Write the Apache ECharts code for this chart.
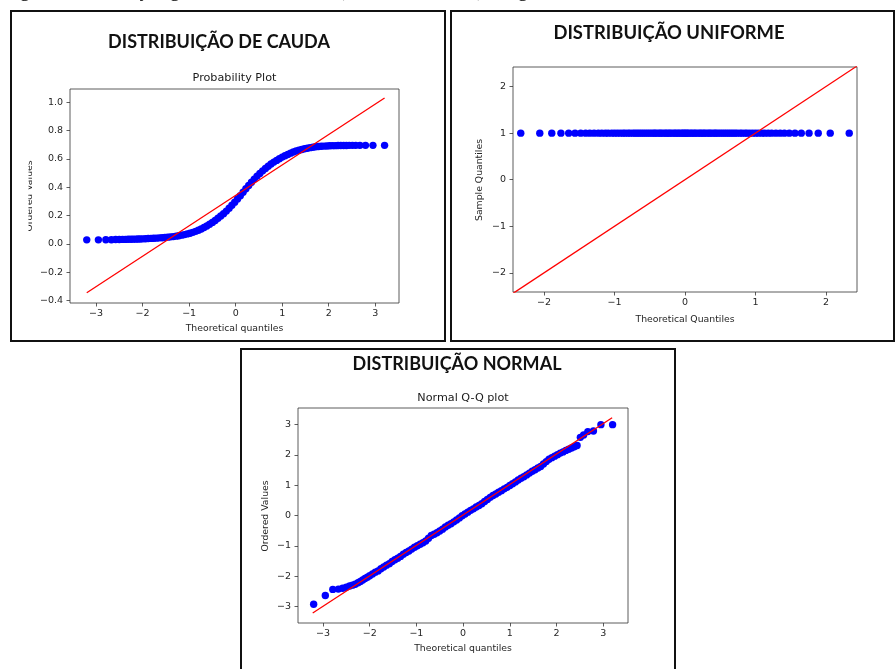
<!DOCTYPE html>
<html><head><meta charset="utf-8">
<script src="https://cdn.jsdelivr.net/npm/echarts@6/dist/echarts.min.js"></script>
<style>html,body{margin:0;padding:0;background:#fff}#c{width:895px;height:669px}</style>
</head><body><div id="c"></div>
<script>
// ---------- DATA ----------
const caudaPoints = [[-3.2,0.029],[-2.95,0.029],[-2.79,0.03],[-2.67,0.03],[-2.58,0.031],[-2.5,0.031],[-2.43,0.032],[-2.37,0.032],[-2.31,0.033],[-2.25,0.033],[-2.2,0.034],[-2.15,0.034],[-2.1,0.035],[-2.05,0.035],[-2.0,0.036],[-1.94,0.037],[-1.88,0.038],[-1.82,0.039],[-1.76,0.040],[-1.7,0.041],[-1.64,0.043],[-1.58,0.044],[-1.52,0.046],[-1.46,0.048],[-1.4,0.05],[-1.34,0.052],[-1.28,0.055],[-1.22,0.058],[-1.16,0.062],[-1.1,0.066],[-1.04,0.071],[-0.98,0.076],[-0.92,0.082],[-0.86,0.089],[-0.8,0.097],[-0.74,0.106],[-0.68,0.116],[-0.62,0.127],[-0.56,0.139],[-0.5,0.152],[-0.44,0.166],[-0.38,0.181],[-0.32,0.197],[-0.26,0.214],[-0.2,0.232],[-0.14,0.252],[-0.08,0.273],[-0.02,0.295],[0.04,0.318],[0.1,0.34],[0.16,0.365],[0.22,0.39],[0.28,0.413],[0.34,0.436],[0.4,0.458],[0.46,0.479],[0.52,0.498],[0.58,0.516],[0.64,0.533],[0.7,0.549],[0.76,0.564],[0.82,0.578],[0.88,0.59],[0.94,0.602],[1.0,0.613],[1.06,0.623],[1.12,0.632],[1.18,0.641],[1.24,0.649],[1.3,0.656],[1.36,0.662],[1.42,0.667],[1.48,0.672],[1.54,0.676],[1.6,0.68],[1.66,0.683],[1.72,0.686],[1.78,0.688],[1.84,0.69],[1.9,0.691],[1.96,0.692],[2.02,0.693],[2.08,0.694],[2.14,0.694],[2.2,0.695],[2.26,0.695],[2.32,0.695],[2.38,0.695],[2.44,0.696],[2.51,0.696],[2.58,0.696],[2.67,0.696],[2.79,0.696],[2.95,0.696],[3.2,0.696]];
const caudaLine = [[-3.2,-0.345],[3.2,1.03]];

const uniformPoints = [[-2.33,1],[-2.06,1],[-1.89,1],[-1.76,1],[-1.65,1],[-1.56,1],[-1.48,1],[-1.41,1],[-1.35,1],[-1.29,1],[-1.23,1],[-1.18,1],[-1.13,1],[-1.09,1],[-1.04,1],[-1.0,1],[-0.96,1],[-0.92,1],[-0.88,1],[-0.85,1],[-0.81,1],[-0.78,1],[-0.74,1],[-0.71,1],[-0.68,1],[-0.65,1],[-0.62,1],[-0.59,1],[-0.56,1],[-0.53,1],[-0.5,1],[-0.47,1],[-0.44,1],[-0.42,1],[-0.39,1],[-0.36,1],[-0.34,1],[-0.31,1],[-0.28,1],[-0.26,1],[-0.23,1],[-0.21,1],[-0.18,1],[-0.15,1],[-0.13,1],[-0.1,1],[-0.08,1],[-0.05,1],[-0.03,1],[-0.01,1],[0.01,1],[0.03,1],[0.05,1],[0.08,1],[0.1,1],[0.13,1],[0.15,1],[0.18,1],[0.21,1],[0.23,1],[0.26,1],[0.28,1],[0.31,1],[0.34,1],[0.36,1],[0.39,1],[0.42,1],[0.44,1],[0.47,1],[0.5,1],[0.53,1],[0.56,1],[0.59,1],[0.62,1],[0.65,1],[0.68,1],[0.71,1],[0.74,1],[0.78,1],[0.81,1],[0.85,1],[0.88,1],[0.92,1],[0.96,1],[1.0,1],[1.04,1],[1.09,1],[1.13,1],[1.18,1],[1.23,1],[1.29,1],[1.35,1],[1.41,1],[1.48,1],[1.56,1],[1.65,1],[1.76,1],[1.89,1],[2.06,1],[2.33,1]];
const uniformLine = [[-2.44,-2.44],[2.44,2.44]];

const normalPoints = [[-3.2,-2.93],[-2.95,-2.64],[-2.79,-2.44],[-2.67,-2.43],[-2.58,-2.4],[-2.5,-2.37],[-2.43,-2.33],[-2.37,-2.3],[-2.31,-2.27],[-2.25,-2.22],[-2.2,-2.18],[-2.15,-2.13],[-2.1,-2.08],[-2.05,-2.04],[-2.0,-1.99],[-1.94,-1.93],[-1.88,-1.87],[-1.82,-1.83],[-1.76,-1.76],[-1.7,-1.7],[-1.64,-1.64],[-1.58,-1.59],[-1.52,-1.52],[-1.46,-1.46],[-1.4,-1.41],[-1.34,-1.35],[-1.28,-1.28],[-1.22,-1.22],[-1.16,-1.17],[-1.1,-1.11],[-1.04,-1.05],[-0.98,-1.0],[-0.92,-0.95],[-0.86,-0.9],[-0.8,-0.84],[-0.74,-0.75],[-0.68,-0.66],[-0.62,-0.62],[-0.56,-0.57],[-0.5,-0.51],[-0.44,-0.45],[-0.38,-0.38],[-0.32,-0.32],[-0.26,-0.27],[-0.2,-0.21],[-0.14,-0.15],[-0.08,-0.08],[-0.02,-0.01],[0.04,0.05],[0.1,0.11],[0.16,0.17],[0.22,0.22],[0.28,0.28],[0.34,0.33],[0.4,0.39],[0.46,0.46],[0.52,0.53],[0.58,0.6],[0.64,0.66],[0.7,0.71],[0.76,0.77],[0.82,0.82],[0.88,0.88],[0.94,0.93],[1.0,0.99],[1.06,1.05],[1.12,1.11],[1.18,1.17],[1.24,1.23],[1.3,1.28],[1.36,1.34],[1.42,1.4],[1.48,1.46],[1.54,1.51],[1.6,1.57],[1.66,1.62],[1.72,1.7],[1.78,1.78],[1.84,1.86],[1.9,1.91],[1.96,1.96],[2.02,2.01],[2.08,2.06],[2.14,2.1],[2.2,2.15],[2.26,2.19],[2.32,2.23],[2.38,2.27],[2.44,2.31],[2.51,2.58],[2.58,2.66],[2.67,2.77],[2.79,2.79],[2.95,3.0],[3.2,3.0]];
const normalLine = [[-3.22,-3.22],[3.19,3.23]];

const caudaXTicks = [-3,-2,-1,0,1,2,3];
const caudaYTicks = [-0.4,-0.2,0,0.2,0.4,0.6,0.8,1.0];
const uniformXTicks = [-2,-1,0,1,2];
const uniformYTicks = [-2,-1,0,1,2];
const normalXTicks = [-3,-2,-1,0,1,2,3];
const normalYTicks = [-3,-2,-1,0,1,2,3];

const panelTitles = ['DISTRIBUIÇÃO DE CAUDA','DISTRIBUIÇÃO UNIFORME','DISTRIBUIÇÃO NORMAL'];
const plotTitles = ['Probability Plot','Normal Q-Q plot'];
const xLabels = ['Theoretical quantiles','Theoretical Quantiles','Theoretical quantiles'];
const yLabels = ['Ordered Values','Sample Quantiles','Ordered Values'];
const captionText = 'Figura: Distribuição gráfica das amostras (dados simulados) e o gráfico QQ';

// ---------- CHART ----------
const TICKF = 'DejaVu Sans';
const fmt1 = v => (v < 0 ? '\u2212' : '') + Math.abs(v).toFixed(1);
const fmt0 = v => (v < 0 ? '\u2212' : '') + Math.abs(Math.round(v));

function xAx(gi, min, max, ticks, fmt) {
  return {type:'value', gridIndex:gi, min, max,
    axisLine:{show:false, onZero:false},
    axisTick:{show:true, length:3.5, customValues:ticks, lineStyle:{color:'#333', width:0.8}},
    axisLabel:{customValues:ticks, formatter:fmt, color:'#262626', fontSize:9.5, fontFamily:TICKF, margin:6},
    splitLine:{show:false}};
}
function yAx(gi, min, max, ticks, fmt) {
  return {type:'value', gridIndex:gi, min, max,
    axisLine:{show:false, onZero:false},
    axisTick:{show:true, length:3.5, customValues:ticks, lineStyle:{color:'#333', width:0.8}},
    axisLabel:{customValues:ticks, formatter:fmt, color:'#262626', fontSize:9.5, fontFamily:TICKF, margin:7},
    splitLine:{show:false}};
}
const gridStyle = {show:true, borderColor:'#333', borderWidth:0.8, backgroundColor:'transparent', containLabel:false};

function scat(gi, data) {
  return {type:'scatter', xAxisIndex:gi, yAxisIndex:gi, data, symbol:'circle', symbolSize:7.4,
    itemStyle:{color:'#0000ff', opacity:1}, z:2, silent:true};
}
function fit(gi, data) {
  return {type:'line', xAxisIndex:gi, yAxisIndex:gi, data, symbol:'none',
    lineStyle:{color:'#ff0000', width:1.3}, z:3, silent:true};
}

const titleFont = 'Lato';
function txt(x, y, text, opt) {
  return Object.assign({type:'text', x, y, z:10, style:Object.assign({text, fill:'#000', textAlign:'center', textVerticalAlign:'middle', fontFamily:TICKF, fontSize:9.3}, opt || {})});
}

const option = {
  animation:false,
  backgroundColor:'#fff',
  grid:[
    Object.assign({left:70, top:89, width:329, height:214}, gridStyle),
    Object.assign({left:513, top:67, width:344, height:225}, gridStyle),
    Object.assign({left:298, top:408, width:330, height:215}, gridStyle)
  ],
  xAxis:[
    xAx(0, -3.56, 3.51, caudaXTicks, fmt0),
    xAx(1, -2.44, 2.44, uniformXTicks, fmt0),
    xAx(2, -3.535, 3.53, normalXTicks, fmt0)
  ],
  yAxis:[
    yAx(0, -0.417, 1.094, caudaYTicks, fmt1),
    yAx(1, -2.41, 2.42, uniformYTicks, fmt0),
    yAx(2, -3.55, 3.55, normalYTicks, fmt0)
  ],
  series:[
    scat(0, caudaPoints), fit(0, caudaLine),
    scat(1, uniformPoints), fit(1, uniformLine),
    scat(2, normalPoints), fit(2, normalLine)
  ],
  graphic:[
    // caption sliver at very top (only descenders visible)
    {type:'text', x:3, y:-19, z:10, style:{text:captionText, fill:'#000', fontFamily:'Liberation Serif', fontSize:20, textAlign:'left', textVerticalAlign:'top'}},
    // panel frames
    {type:'rect', z:9, shape:{x:11, y:11, width:434, height:330}, style:{fill:null, stroke:'#111', lineWidth:2}},
    {type:'rect', z:9, shape:{x:451, y:11, width:443, height:330}, style:{fill:null, stroke:'#111', lineWidth:2}},
    {type:'rect', z:9, shape:{x:241, y:349, width:434, height:330}, style:{fill:null, stroke:'#111', lineWidth:2}},
    // panel titles
    txt(219, 42, panelTitles[0], {fontFamily:titleFont, fontWeight:'bold', fontSize:18, fill:'#111'}),
    txt(669, 33, panelTitles[1], {fontFamily:titleFont, fontWeight:'bold', fontSize:18.4, fill:'#111'}),
    txt(457, 364, panelTitles[2], {fontFamily:titleFont, fontWeight:'bold', fontSize:18, fill:'#111'}),
    // plot titles
    txt(234.5, 78, plotTitles[0], {fontSize:11.2, fill:'#1a1a1a'}),
    txt(463, 398.5, plotTitles[1], {fontSize:11.2, fill:'#1a1a1a'}),
    // x labels
    txt(234.5, 328.5, xLabels[0], {fill:'#262626'}),
    txt(685, 319.5, xLabels[1], {fill:'#262626'}),
    txt(463, 649, xLabels[2], {fill:'#262626'}),
    // y labels
    Object.assign(txt(30, 196, yLabels[0], {fill:'#262626'}), {rotation:Math.PI/2}),
    Object.assign(txt(479.5, 180, yLabels[1], {fill:'#262626'}), {rotation:Math.PI/2}),
    Object.assign(txt(265.5, 516, yLabels[2], {fill:'#262626'}), {rotation:Math.PI/2}),
    // clip of the first y label
    {type:'rect', z:11, shape:{x:13, y:140, width:15.5, height:115}, style:{fill:'#fff'}}
  ]
};
const chart = echarts.init(document.getElementById('c'), null, {renderer:'canvas'});
chart.setOption(option);
</script></body></html>
